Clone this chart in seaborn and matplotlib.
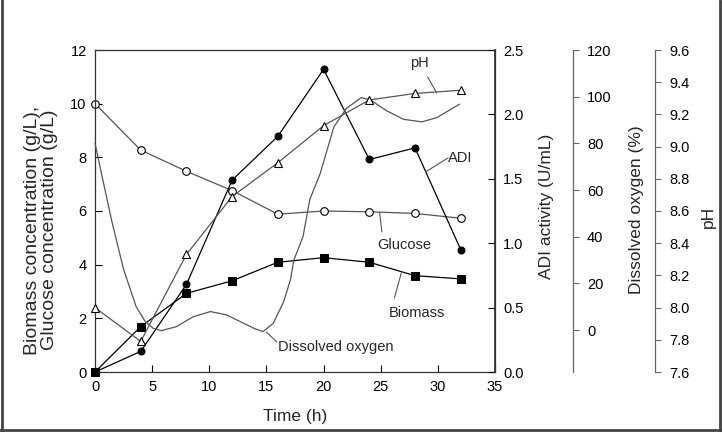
import matplotlib
matplotlib.use("Agg")
import matplotlib.pyplot as plt
from matplotlib.lines import Line2D
import seaborn as sns

# sampling times (h)
time_h = [0, 4, 8, 12, 16, 20, 24, 28, 32]

# left axis (g/L)
glucose = [10.0, 8.27, 7.48, 6.76, 5.88, 6.0, 5.97, 5.91, 5.73]
biomass = [0.0, 1.69, 2.93, 3.40, 4.09, 4.26, 4.09, 3.59, 3.47]

# right axes
adi = [0.0, 0.16, 0.68, 1.49, 1.83, 2.35, 1.65, 1.74, 0.95]
ph = [8.0, 7.79, 8.33, 8.69, 8.90, 9.13, 9.29, 9.33, 9.35]

# dissolved oxygen trace
do_time = [0, 0.7, 1.5, 2.5, 3.6, 4.4, 5.1, 5.8, 7.1, 8.6, 10.1, 11.5, 13.0,
           14.0, 14.7, 15.6, 16.5, 17.1, 17.4, 18.2, 18.8, 19.7, 20.9, 22.0,
           23.3, 24.1, 25.5, 27.0, 28.6, 29.9, 31.9]
do_pct = [80, 64, 46, 26, 10, 3.6, 0.7, -0.3, 1.4, 5.7, 7.9, 6.5, 2.9,
          0.5, -0.7, 2.9, 12, 21.5, 30, 40, 56, 67, 87, 95,
          99.6, 98.6, 94, 90.3, 89.2, 91, 96.8]

x_ticks = [0, 5, 10, 15, 20, 25, 30, 35]
left_ticks = [0, 2, 4, 6, 8, 10, 12]
adi_ticks = [0.0, 0.5, 1.0, 1.5, 2.0, 2.5]
do_ticks = [0, 20, 40, 60, 80, 100, 120]
ph_ticks = [7.6, 7.8, 8.0, 8.2, 8.4, 8.6, 8.8, 9.0, 9.2, 9.4, 9.6]

# label text, text position, leader start, leader end (left-axis data coords)
labels = [
    ("pH", (28.4, 11.52), (29.1, 11.0), (29.9, 10.4), "center"),
    ("ADI", (30.9, 7.98), (30.9, 7.98), (28.9, 7.45), "left"),
    ("Glucose", (27.1, 4.73), (25.1, 5.22), (24.9, 5.96), "center"),
    ("Biomass", (28.2, 2.2), (26.2, 2.76), (26.8, 3.69), "center"),
    ("Dissolved oxygen", (16.0, 0.93), (15.9, 1.12), (15.0, 1.49), "left"),
]

sns.set_theme(style="white")
plt.rcParams['font.family'] = ['Liberation Sans', 'DejaVu Sans']
FS = 10.5
GRAY = "#555555"

fig = plt.figure(figsize=(7.22, 4.32), dpi=100)
ax = fig.add_axes([95 / 722, 60 / 432, 400 / 722, 322 / 432])
ax.set_facecolor("none")

ax_adi = ax.twinx()
ax_do = ax.twinx()
ax_ph = ax.twinx()

# main series
sns.lineplot(x=time_h, y=glucose, ax=ax, color=GRAY, lw=0.9, marker="o",
             markersize=5.5, markerfacecolor="white", markeredgecolor="black",
             markeredgewidth=0.8, clip_on=False)
sns.lineplot(x=time_h, y=biomass, ax=ax, color="black", lw=0.9, marker="s",
             markersize=5.5, markerfacecolor="black", markeredgecolor="black",
             clip_on=False)
sns.lineplot(x=time_h, y=adi, ax=ax_adi, color="black", lw=0.9, marker="o",
             markersize=5, markerfacecolor="black", markeredgecolor="black",
             clip_on=False)
sns.lineplot(x=do_time, y=do_pct, ax=ax_do, color=GRAY, lw=0.9, sort=False,
             clip_on=False)
sns.lineplot(x=time_h, y=ph, ax=ax_ph, color=GRAY, lw=0.9, marker="^",
             markersize=6, markerfacecolor="white", markeredgecolor="black",
             markeredgewidth=0.8, clip_on=False)

# main axes
ax.set_xlim(0, 35)
ax.set_ylim(0, 12)
ax.set_xticks(x_ticks)
ax.set_yticks(left_ticks)
ax.tick_params(direction="in", length=5, width=0.8, labelsize=FS, pad=6,
               colors="black", top=False, right=False, left=True, bottom=True)
ax.set_xlabel("")
ax.set_ylabel("")
for s in ax.spines.values():
    s.set_color("#333333")
    s.set_linewidth(0.9)

ax_adi.set_ylim(0, 2.5)
ax_adi.set_yticks(adi_ticks)
ax_adi.set_yticklabels([f"{v:.1f}" for v in adi_ticks])
ax_adi.tick_params(direction="in", length=5, width=0.8, labelsize=FS, pad=6,
                   right=True, colors="black")
for k in ("left", "top", "bottom"):
    ax_adi.spines[k].set_visible(False)
ax_adi.spines["right"].set_color("#333333")

for a, pos in ((ax_do, 1.195), (ax_ph, 1.4)):
    for k in ("left", "top", "bottom"):
        a.spines[k].set_visible(False)
    a.spines["right"].set_position(("axes", pos))
    a.spines["right"].set_color("#666666")
    a.spines["right"].set_linewidth(0.9)
    a.tick_params(direction="out", length=4, width=0.8, labelsize=FS, pad=6,
                  right=True, colors="#666666", labelcolor="black")

ax_do.set_ylim(-18, 120)
ax_do.set_yticks(do_ticks)
ax_ph.set_ylim(7.6, 9.6)
ax_ph.set_yticks(ph_ticks)
ax_ph.set_yticklabels([f"{v:.1f}" for v in ph_ticks])

for a in (ax_adi, ax_do, ax_ph):
    a.set_ylabel("")
    a.set_xlim(0, 35)

# axis titles
fig.text(41 / 722, 1 - 230 / 432,
         "Biomass concentration (g/L),\nGlucose concentration (g/L)",
         rotation=90, ha="center", va="center", fontsize=14,
         multialignment="center", linespacing=1.05)
fig.text(295 / 722, 16 / 432, "Time (h)", ha="center", va="center",
         fontsize=12.5)
fig.text(547 / 722, 1 - 206 / 432, "ADI activity (U/mL)", rotation=90,
         ha="center", va="center", fontsize=12.5)
fig.text(636 / 722, 1 - 210 / 432, "Dissolved oxygen (%)", rotation=90,
         ha="center", va="center", fontsize=12.5)
fig.text(708 / 722, 1 - 217 / 432, "pH", rotation=90,
         ha="center", va="center", fontsize=12.5)

# in-plot labels with leader lines
for text, tpos, p0, p1, ha in labels:
    ax_ph.annotate("", xy=p1, xytext=p0, xycoords=ax.transData,
                   textcoords=ax.transData,
                   arrowprops=dict(arrowstyle="-", color=GRAY, lw=0.8,
                                   shrinkA=0, shrinkB=0))
    ax_ph.text(tpos[0], tpos[1], text, transform=ax.transData, ha=ha,
               va="center", fontsize=FS)

# outer frame
for xs, ys in (([2, 2], [0, 432]), ([720, 720], [0, 432]), ([0, 722], [430, 430])):
    fig.add_artist(Line2D([x / 722 for x in xs], [1 - y / 432 for y in ys],
                          color="#444444", lw=2))

fig.savefig("out.png", dpi=100)
